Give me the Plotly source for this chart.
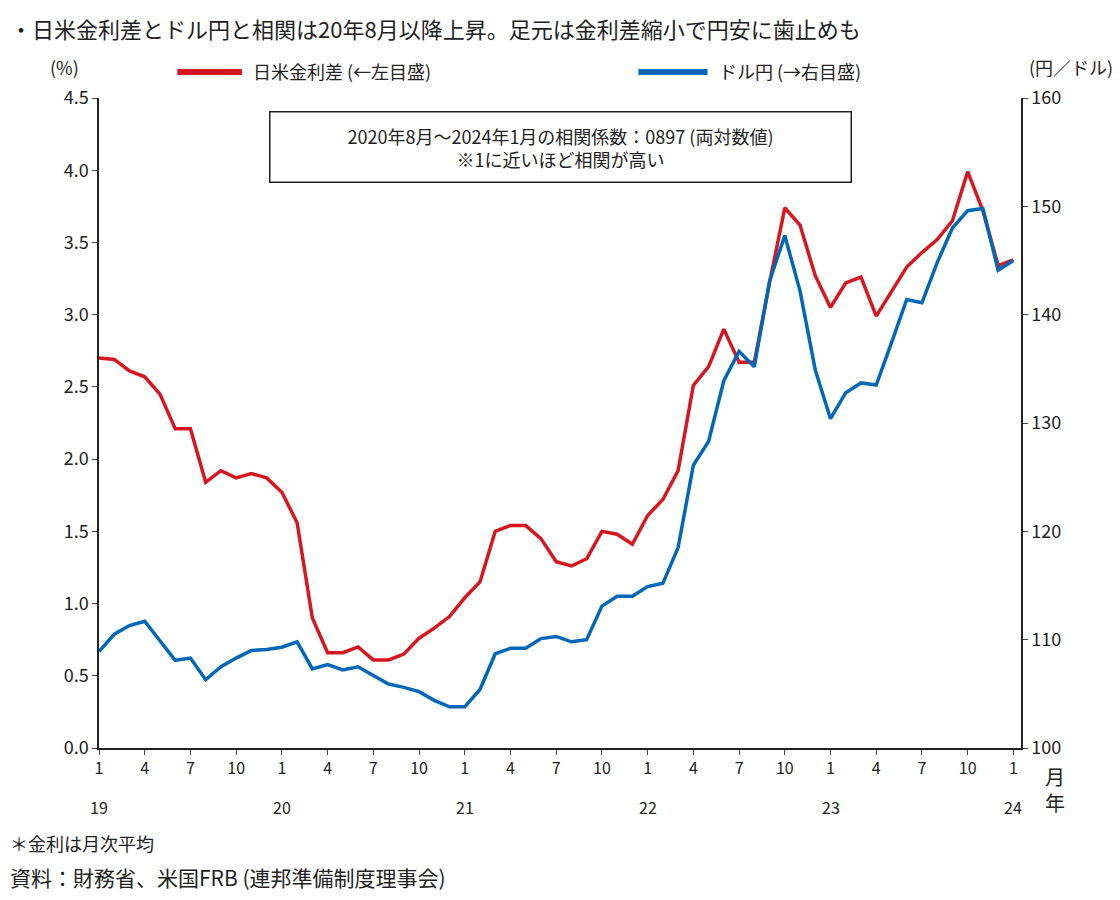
import plotly.graph_objects as go

months = list(range(61))
spread = [2.70,2.69,2.61,2.57,2.45,2.21,2.21,1.84,1.92,1.87,1.90,1.87,
          1.77,1.56,0.90,0.66,0.66,0.70,0.61,0.61,0.65,0.76,0.83,0.91,
          1.04,1.15,1.50,1.54,1.54,1.45,1.29,1.26,1.31,1.50,1.48,1.41,
          1.61,1.72,1.92,2.51,2.64,2.90,2.67,2.67,3.22,3.74,3.62,3.27,
          3.05,3.22,3.26,2.99,3.16,3.33,3.43,3.52,3.65,3.99,3.72,3.34,
          3.38]
usdjpy = [108.9,110.5,111.3,111.7,109.9,108.1,108.3,106.3,107.5,108.3,109.0,109.1,
          109.3,109.8,107.3,107.7,107.2,107.5,106.7,105.9,105.6,105.2,104.4,103.8,
          103.8,105.4,108.7,109.2,109.2,110.1,110.3,109.8,110.0,113.1,114.0,114.0,
          114.9,115.2,118.5,126.1,128.3,133.9,136.6,135.2,143.1,147.3,142.2,134.9,
          130.4,132.8,133.7,133.5,137.4,141.4,141.1,144.8,148.0,149.6,149.8,144.1,
          145.0]
tick_pos = list(range(0, 61, 3))
tick_text = ["1","4","7","10"] * 5 + ["1"]
years = ["19","20","21","22","23","24"]

RED = "#d7171f"; BLUE = "#0068b7"
F = "Noto Sans CJK JP"
fig = go.Figure()
fig.add_trace(go.Scatter(x=months, y=spread, mode="lines", line=dict(color=RED, width=3.5), showlegend=False))
fig.add_trace(go.Scatter(x=months, y=usdjpy, mode="lines", line=dict(color=BLUE, width=3.5), yaxis="y2", showlegend=False))

fig.update_layout(
    width=1120, height=900, plot_bgcolor="white", paper_bgcolor="white",
    margin=dict(l=91, r=107, t=90, b=160, autoexpand=False),
    font=dict(family=F, size=18, color="#222"),
    xaxis=dict(range=[0, 60.5], tickvals=tick_pos, ticktext=tick_text, showline=True, linecolor="#222",
               linewidth=1.5, ticks="outside", ticklen=5, showgrid=False, zeroline=False, tickfont=dict(size=16),
               automargin=False),
    yaxis=dict(range=[0, 4.5], dtick=0.5, tickformat=".1f", showline=True, linecolor="#222", linewidth=1.5,
               ticks="outside", ticklen=5, showgrid=False, zeroline=False, tickfont=dict(size=18), automargin=False),
    yaxis2=dict(range=[100, 160], dtick=10, overlaying="y", side="right", showline=True, linecolor="#222",
                linewidth=1.5, ticks="outside", ticklen=5, showgrid=False, zeroline=False, tickfont=dict(size=18),
                automargin=False),
)
ann = [
    dict(x=0, y=1.0, xref="paper", yref="paper", xanchor="left", yanchor="bottom", yshift=52, xshift=-91,
         text="・日米金利差とドル円と相関は20年8月以降上昇。足元は金利差縮小で円安に歯止めも", font=dict(size=22)),
    dict(x=0, y=1.0, xref="paper", yref="paper", xanchor="center", yanchor="bottom", yshift=16, xshift=-35,
         text="(%)"),
    dict(x=1, y=1.0, xref="paper", yref="paper", xanchor="center", yanchor="bottom", yshift=16, xshift=50,
         text="(円／ドル)"),
    dict(x=0.165, y=1.0, xref="paper", yref="paper", xanchor="left", yanchor="bottom", yshift=12,
         text="日米金利差 (←左目盛)"),
    dict(x=0.67, y=1.0, xref="paper", yref="paper", xanchor="left", yanchor="bottom", yshift=12,
         text="ドル円 (→右目盛)"),
    dict(x=0.5, y=0.925, xref="paper", yref="paper", xanchor="center", yanchor="middle",
         text="2020年8月～2024年1月の相関係数：0897 (両対数値)<br>※1に近いほど相関が高い",
         showarrow=False, bordercolor="#222", borderwidth=1.5, borderpad=10, bgcolor="white", width=560),
    dict(x=1, y=0, xref="paper", yref="paper", xanchor="left", yanchor="top", xshift=22, yshift=-12,
         text="月<br>年", font=dict(size=20)),
    dict(x=0, y=0, xref="paper", yref="paper", xanchor="left", yanchor="top", xshift=-91, yshift=-80,
         text="＊金利は月次平均", font=dict(size=18)),
    dict(x=0, y=0, xref="paper", yref="paper", xanchor="left", yanchor="top", xshift=-91, yshift=-112,
         text="資料：財務省、米国FRB (連邦準備制度理事会)", font=dict(size=21)),
]
for i, yv in enumerate(years):
    ann.append(dict(x=i * 12, y=0, xref="x", yref="paper", yanchor="top", yshift=-45, text=yv, font=dict(size=16)))
for a in ann:
    a.setdefault("showarrow", False)
    fig.add_annotation(**a)
fig.add_shape(type="line", xref="paper", yref="paper", x0=0.085, x1=0.155, y0=1.04, y1=1.04, line=dict(color=RED, width=6))
fig.add_shape(type="line", xref="paper", yref="paper", x0=0.585, x1=0.66, y0=1.04, y1=1.04, line=dict(color=BLUE, width=6))
fig.write_html("out.html")
